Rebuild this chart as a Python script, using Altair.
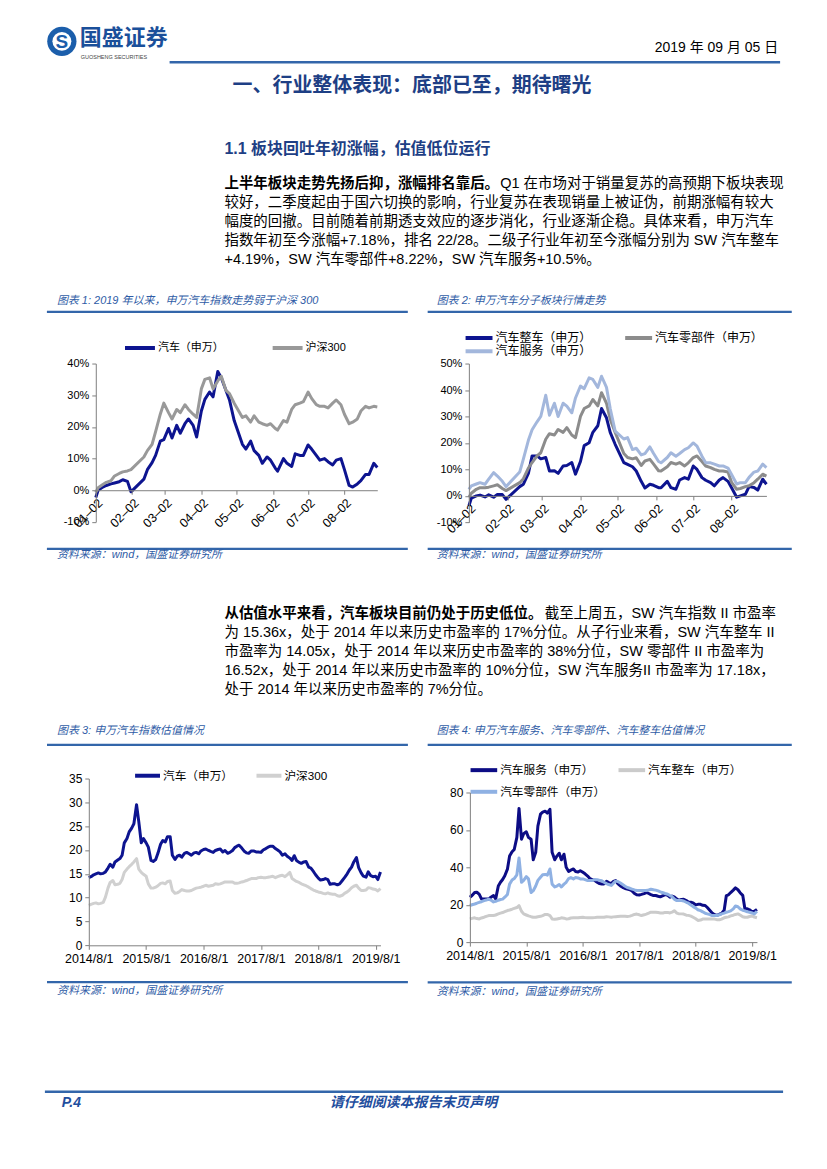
import altair as alt
import pandas as pd

# ------------------------------------------------------------------ fonts / colours
CJK = "Noto Sans CJK SC"
MIX = "Liberation Sans Narrow, Liberation Sans, Noto Sans CJK SC"
LAT = "Liberation Sans"
LEGF = "Liberation Sans, Noto Sans CJK SC"
HEAD_C = "#1e3f85"
BLUE_T = "#2f5ca6"
RULE_C = "#3366aa"
AX_C = "#808080"
NAVY = "#0d1490"

# ------------------------------------------------------------------ texts
DATE_STR = "2019 年 09 月 05 日"
LOGO_CN = "国盛证券"
LOGO_EN = "GUOSHENG SECURITIES"
H1 = "一、行业整体表现：底部已至，期待曙光"
H2 = "1.1 板块回吐年初涨幅，估值低位运行"
P1_BOLD = "上半年板块走势先扬后抑，涨幅排名靠后。"
P1_FIRST = "Q1 在市场对于销量复苏的高预期下板块表现"
P1_LINES = [
    "较好，二季度起由于国六切换的影响，行业复苏在表现销量上被证伪，前期涨幅有较大",
    "幅度的回撤。目前随着前期透支效应的逐步消化，行业逐渐企稳。具体来看，申万汽车",
    "指数年初至今涨幅+7.18%，排名 22/28。二级子行业年初至今涨幅分别为 SW 汽车整车",
    "+4.19%，SW 汽车零部件+8.22%，SW 汽车服务+10.5%。",
]
P2_BOLD = "从估值水平来看，汽车板块目前仍处于历史低位。"
P2_FIRST = "截至上周五，SW 汽车指数 II 市盈率"
P2_LINES = [
    "为 15.36x，处于 2014 年以来历史市盈率的 17%分位。从子行业来看，SW 汽车整车 II",
    "市盈率为 14.05x，处于 2014 年以来历史市盈率的 38%分位，SW 零部件 II 市盈率为",
    "16.52x，处于 2014 年以来历史市盈率的 10%分位，SW 汽车服务II 市盈率为 17.18x，",
    "处于 2014 年以来历史市盈率的 7%分位。",
]
TITLES = [
    "图表 1: 2019 年以来，申万汽车指数走势弱于沪深 300",
    "图表 2: 申万汽车分子板块行情走势",
    "图表 3: 申万汽车指数估值情况",
    "图表 4: 申万汽车服务、汽车零部件、汽车整车估值情况",
]
SOURCE = "资料来源：wind，国盛证券研究所"
FOOT_L = "P.4"
FOOT_C = "请仔细阅读本报告末页声明"

# ------------------------------------------------------------------ data: 2019 YTD change (%)
D19 = ["2019-01-02", "2019-01-04", "2019-01-08", "2019-01-11", "2019-01-15", "2019-01-18",
       "2019-01-22", "2019-01-25", "2019-01-29",
       "2019-02-01", "2019-02-12", "2019-02-15", "2019-02-19", "2019-02-22", "2019-02-26",
       "2019-03-01", "2019-03-05", "2019-03-08", "2019-03-12", "2019-03-15", "2019-03-19",
       "2019-03-22", "2019-03-26", "2019-03-29",
       "2019-04-02", "2019-04-05", "2019-04-09", "2019-04-12", "2019-04-16", "2019-04-19",
       "2019-04-23", "2019-04-26", "2019-04-30",
       "2019-05-07", "2019-05-10", "2019-05-14", "2019-05-17", "2019-05-21", "2019-05-24",
       "2019-05-28", "2019-05-31",
       "2019-06-04", "2019-06-06", "2019-06-11", "2019-06-14", "2019-06-18", "2019-06-21",
       "2019-06-25", "2019-06-28",
       "2019-07-02", "2019-07-05", "2019-07-09", "2019-07-12", "2019-07-16", "2019-07-19",
       "2019-07-23", "2019-07-26", "2019-07-30",
       "2019-08-02", "2019-08-06", "2019-08-09", "2019-08-13", "2019-08-16", "2019-08-20",
       "2019-08-23", "2019-08-27", "2019-08-30"]
TICKS19 = ["2019-01-02", "2019-02-02", "2019-03-02", "2019-04-02", "2019-05-02",
           "2019-06-02", "2019-07-02", "2019-08-02"]
DOM19 = ["2019-01-02", "2019-08-30"]

C1_NAMES = ["汽车（申万）", "沪深300"]
C1_AUTO = [-2.3, 0.0, 1.0, 1.5, 2.0, 2.3, 2.7, 3.3, 2.8,
           -0.5, 3.5, 6.5, 8.7, 11.0, 15.5,
           16.0, 19.5, 16.5, 20.5, 18.0, 21.0, 22.5, 20.5, 16.8,
           25.0, 28.7, 31.0, 29.5, 37.5, 35.5, 31.5, 28.5, 22.0,
           14.5, 13.0, 15.5, 12.5, 11.0, 8.5, 10.5, 9.5,
           7.0, 6.0, 10.0, 8.5, 7.5, 11.5, 11.0, 11.0,
           14.3, 13.0, 11.0, 9.5, 10.0, 9.0, 8.0, 9.5, 10.0,
           6.5, 1.5, 1.0, 2.0, 3.0, 5.0, 5.0, 8.5, 7.2]
C1_HS300 = [-0.7, 0.8, 1.8, 2.5, 3.0, 4.5, 5.3, 5.8, 6.1,
            6.5, 10.5, 12.5, 14.5, 18.5, 24.0,
            27.5, 24.5, 22.5, 25.5, 24.5, 27.0, 25.5, 24.0, 23.0,
            32.0, 35.0, 35.5, 32.0, 34.5, 36.0, 31.5, 30.5, 27.5,
            23.0, 23.5, 21.5, 23.5, 21.5, 21.0, 20.5, 21.0,
            19.5, 19.0, 22.0, 21.5, 25.5, 27.0, 27.5, 28.0,
            31.0, 29.0, 27.0, 26.5, 26.5, 26.0, 27.5, 28.5, 27.0,
            24.0, 21.0, 21.5, 22.5, 25.0, 26.5, 26.0, 26.5, 26.3]

C2_NAMES = ["汽车整车（申万）", "汽车零部件（申万）", "汽车服务（申万）"]
C2_ZC = [-3.8, -0.8, 0.0, 0.3, -0.4, 0.4, -0.5, 0.5, 0.5,
         -1.3, 3.5, 4.4, 8.5, 15.1, 15.1,
         14.0, 14.5, 9.4, 9.5, 8.5, 11.3, 11.5, 12.6, 8.2,
         13.0, 19.0, 20.1, 24.0, 26.5, 33.0, 29.5, 24.0, 19.5,
         12.6, 11.9, 11.0, 9.4, 5.5, 3.0, 4.4, 4.0,
         3.1, 3.1, 5.5, 3.1, 2.5, 6.0, 6.9, 6.3,
         11.3, 10.0, 6.9, 5.9, 5.0, 3.8, 6.0, 6.9, 5.5,
         3.0, -0.5, 0.0, 0.6, 3.5, 3.2, 2.2, 6.3, 4.4]
C2_LBJ = [-0.5, 1.0, 2.5, 3.1, 3.1, 3.3, 3.8, 4.2, 2.8,
          2.0, 5.0, 6.5, 10.5, 12.6, 15.1,
          16.3, 21.4, 23.5, 23.0, 25.1, 24.0, 25.8, 23.0, 22.0,
          30.0, 33.0, 34.0, 36.4, 34.0, 39.0, 35.0, 29.0, 24.0,
          16.0, 14.5, 14.0, 14.4, 11.5, 13.2, 13.8, 12.0,
          9.5, 9.4, 11.0, 12.6, 12.0, 12.6, 11.3, 12.5,
          14.5, 15.1, 13.0, 11.3, 10.7, 10.0, 9.4, 9.4, 9.0,
          5.0, 2.5, 2.8, 3.5, 3.8, 5.0, 6.3, 8.2, 7.5]
C2_FW = [2.5, 3.8, 4.5, 5.0, 4.4, 6.3, 8.8, 7.5, 5.5,
         3.5, 9.0, 14.0, 21.0, 25.0, 28.0,
         30.0, 38.0, 30.5, 35.0, 30.0, 35.0, 33.9, 31.4, 37.0,
         41.5, 40.5, 44.6, 44.0, 41.0, 45.2, 41.0, 33.0, 24.5,
         21.5, 22.0, 17.5, 18.0, 15.5, 16.0, 18.5, 16.0,
         13.0, 12.5, 14.5, 16.3, 15.0, 16.0, 17.5, 18.2,
         20.0, 18.8, 15.0, 12.5, 12.5, 12.0, 11.3, 11.3, 10.5,
         8.0, 4.5, 5.0, 5.0, 7.0, 9.0, 9.4, 12.0, 10.7]

# ------------------------------------------------------------------ data: P/E (semi-monthly readings)
DPE = pd.date_range("2014-08-01", "2019-09-01", freq="SMS").strftime("%Y-%m-%d").tolist()
TICKS_PE = ["2014-08-01", "2015-08-01", "2016-08-01", "2017-08-01", "2018-08-01", "2019-08-01"]
DOM_PE = ["2014-08-01", "2019-09-01"]

C3_NAMES = ["汽车（申万）", "沪深300"]
C3_AUTO = [14.2, 14.4, 14.8, 15.0, 15.2, 15.0, 15.1, 15.4, 16.2, 17.0,
           16.4, 17.5, 17.9, 18.2, 18.9, 21.5, 22.4, 23.8, 24.6, 25.5,
           29.5, 26.0, 21.5, 22.4, 21.5, 20.6, 17.8, 17.6, 18.0, 19.3,
           21.2, 22.0, 21.7, 22.8, 22.8, 18.9, 18.0, 18.7, 18.9, 18.5,
           19.3, 19.5, 19.2, 18.9, 19.4, 19.5, 19.2, 19.8, 20.1, 20.2,
           19.9, 19.7, 19.5, 19.9, 20.1, 20.2, 19.6, 19.9, 19.3, 19.5,
           19.9, 20.5, 20.8, 21.0, 20.4, 19.8, 19.4, 19.3, 19.8, 19.8,
           19.6, 19.6, 19.5, 20.0, 20.3, 20.6, 20.8, 20.8, 20.3, 20.0,
           19.6, 18.9, 19.2, 18.7, 18.3, 17.8, 18.8, 17.8, 17.4, 17.2,
           17.5, 17.6, 16.4, 16.2, 15.5, 14.8, 14.1, 13.7, 13.8, 14.0,
           13.8, 12.8, 12.9, 12.9, 12.7, 12.9, 13.6, 14.2, 15.0, 15.8,
           16.4, 17.5, 18.4, 16.3, 15.2, 14.5, 14.3, 15.4, 14.6, 14.4,
           14.5, 13.8, 15.4]
C3_HS300 = [8.4, 8.6, 8.8, 8.9, 8.7, 8.8, 9.0, 10.1, 12.0, 13.2,
            13.6, 12.7, 12.8, 13.0, 13.8, 15.3, 16.0, 16.5, 17.0, 17.5,
            18.2, 16.0, 15.3, 14.9, 14.5, 12.9, 12.0, 12.0, 12.2, 12.5,
            13.0, 13.1, 12.9, 13.4, 13.5, 11.5, 10.9, 11.0, 11.3, 11.7,
            11.5, 11.4, 11.4, 11.5, 11.8, 12.0, 12.1, 12.2, 12.4, 12.6,
            12.4, 12.5, 12.6, 12.9, 12.8, 12.9, 13.1, 13.3, 13.3, 13.3,
            13.3, 13.0, 13.0, 13.1, 13.3, 13.4, 13.6, 13.8, 14.0, 14.0,
            14.0, 14.2, 14.3, 14.2, 14.2, 14.3, 14.4, 14.5, 14.2, 14.4,
            14.6, 14.7, 14.4, 14.8, 15.3, 14.0, 13.7, 13.4, 13.2, 12.9,
            12.7, 12.5, 12.2, 11.9, 11.6, 11.4, 11.2, 11.1, 10.9, 10.8,
            11.0, 10.8, 10.7, 10.7, 10.4, 10.3, 10.5, 10.9, 11.2, 11.6,
            12.1, 12.4, 12.6, 12.0, 11.5, 11.5, 11.6, 12.1, 12.0, 11.8,
            11.7, 11.4, 11.9]

C4_NAMES = ["汽车服务（申万）", "汽车整车（申万）", "汽车零部件（申万）"]
C4_FW = [24.0, 24.9, 26.5, 26.7, 25.5, 23.1, 23.1, 23.1, 23.1, 24.0,
         24.9, 23.1, 30.0, 32.0, 33.5, 35.5, 39.0, 46.0, 48.3, 49.5,
         56.0, 71.5, 55.0, 58.0, 59.0, 56.0, 55.0, 44.0, 48.0, 62.0,
         68.4, 69.5, 70.0, 69.0, 71.0, 48.0, 44.0, 46.0, 47.5, 44.0,
         47.0, 40.0, 37.8, 38.5, 39.1, 37.8, 37.5, 38.2, 37.3, 36.5,
         35.3, 34.0, 33.4, 33.0, 32.0, 31.3, 31.1, 31.1, 32.5, 31.8,
         31.3, 32.5, 32.9, 31.3, 30.0, 29.3, 28.7, 28.4, 28.0, 27.4,
         26.0, 25.3, 25.2, 25.5, 25.9, 26.6, 26.0, 25.4, 24.9, 24.9,
         24.5, 24.2, 24.8, 25.4, 25.0, 24.0, 24.6, 24.2, 23.0, 22.4,
         22.8, 22.9, 22.2, 21.5, 21.3, 21.0, 19.9, 20.2, 20.2, 19.7,
         19.6, 18.5, 16.9, 15.6, 14.7, 14.3, 14.9, 15.3, 17.0, 24.9,
         25.3, 26.5, 27.8, 29.0, 28.0, 26.4, 25.0, 17.8, 17.8, 17.3,
         16.2, 16.5, 17.5]
C4_ZC = [12.4, 12.7, 13.0, 12.6, 12.4, 12.9, 13.3, 13.8, 14.2, 14.2,
         14.2, 14.5, 15.1, 15.5, 15.8, 16.3, 16.9, 17.2, 17.6, 18.0,
         18.5, 19.5, 16.5, 15.1, 14.5, 14.0, 13.6, 13.3, 13.3, 13.6,
         13.8, 14.2, 14.8, 14.8, 14.2, 12.4, 12.2, 12.4, 12.6, 13.0,
         12.8, 12.4, 12.5, 12.9, 13.0, 13.0, 13.0, 13.2, 13.3, 13.1,
         13.0, 13.0, 13.0, 13.1, 13.3, 13.3, 13.3, 13.3, 13.6, 13.5,
         13.3, 13.5, 13.6, 13.7, 13.8, 13.8, 13.8, 13.7, 13.9, 14.3,
         14.8, 15.0, 14.6, 14.2, 14.6, 15.0, 15.5, 16.0, 16.0, 16.0,
         15.8, 15.6, 15.6, 15.9, 15.9, 15.6, 16.0, 16.8, 15.5, 15.1,
         15.1, 15.0, 14.4, 14.3, 13.9, 13.3, 12.5, 11.6, 11.8, 12.3,
         12.4, 12.4, 12.4, 12.4, 12.3, 12.0, 11.9, 12.3, 13.0, 13.3,
         13.5, 14.0, 14.4, 14.8, 15.1, 14.5, 13.6, 13.3, 13.3, 13.7,
         14.0, 13.4, 13.0]
C4_LBJ = [19.6, 20.0, 20.4, 20.8, 21.3, 21.6, 22.2, 22.5, 23.0, 22.5,
          21.5, 21.8, 22.4, 22.8, 23.0, 24.0, 25.5, 31.0, 33.2, 34.0,
          36.0, 45.0, 32.0, 33.0, 35.0, 33.8, 26.5, 27.5, 30.0, 33.0,
          34.7, 36.0, 36.2, 35.8, 39.1, 31.0, 29.5, 30.0, 30.8, 29.5,
          31.0, 32.0, 34.0, 34.5, 33.8, 34.5, 34.3, 33.8, 33.8, 33.4,
          32.9, 32.9, 32.9, 33.5, 33.4, 33.1, 32.8, 32.0, 31.3, 30.8,
          30.3, 31.5, 32.6, 32.4, 31.6, 30.8, 29.9, 29.2, 28.8, 28.3,
          27.9, 27.6, 27.6, 27.6, 27.6, 27.6, 27.9, 28.3, 28.0, 27.8,
          27.4, 26.9, 26.4, 26.0, 25.6, 24.9, 24.3, 23.0, 22.2, 22.2,
          22.2, 22.0, 21.3, 20.8, 19.8, 19.0, 18.2, 17.3, 16.8, 16.2,
          15.4, 15.1, 14.7, 14.2, 14.2, 14.2, 14.6, 15.1, 15.5, 16.0,
          16.3, 16.7, 17.8, 19.3, 18.9, 17.8, 17.0, 16.7, 16.2, 16.0,
          15.6, 15.1, 16.5]

# ------------------------------------------------------------------ helpers
ONE = pd.DataFrame({"k": [0]})


def dt(s):
    y, m, d = (int(p) for p in s.split("-"))
    return alt.DateTime(year=y, month=m, date=d, utc=True)


def txt(s, x, y, size=14.5, weight="normal", color="#000000", align="left", italic=False, font=MIX):
    kw = dict(text=s, align=align, baseline="middle", fontSize=size, fontWeight=weight,
              color=color, font=font)
    if italic:
        kw["fontStyle"] = "italic"
    return alt.Chart(ONE).mark_text(**kw).encode(x=alt.value(x), y=alt.value(y))


def hrule(x1, x2, y, w, color):
    return alt.Chart(ONE).mark_rule(color=color, strokeWidth=w).encode(
        x=alt.value(x1), x2=alt.value(x2), y=alt.value(y))


def frame(x1, x2, y1, y2):
    return alt.Chart(ONE).mark_rect(color="white", opacity=1).encode(
        x=alt.value(x1), x2=alt.value(x2), y=alt.value(y1), y2=alt.value(y2))


def spacer():
    return alt.Chart(ONE).mark_rect(opacity=0).encode(
        x=alt.value(0), x2=alt.value(1), y=alt.value(0), y2=alt.value(1)).properties(width=1, height=1)


def res(c):
    return c.resolve_scale(color="independent").resolve_legend(color="independent")


def x19(offset):
    return alt.X("d:T", title=None,
                 scale=alt.Scale(type="utc", domain=[dt(DOM19[0]), dt(DOM19[1])]),
                 axis=alt.Axis(values=[dt(s) for s in TICKS19],
                               labelExpr="utcFormat(datum.value, '%m–%d')",
                               labelAngle=-45, labelAlign="right", labelBaseline="top",
                               offset=offset, labelFont=LAT, labelFontSize=12.5, labelColor="#000000",
                               labelPadding=2, labelOverlap=False, labelFlush=False, zindex=1,
                               domainColor=AX_C, tickColor=AX_C, tickSize=4, grid=False))


def xpe():
    return alt.X("d:T", title=None,
                 scale=alt.Scale(type="utc", domain=[dt(DOM_PE[0]), dt(DOM_PE[1])]),
                 axis=alt.Axis(values=[dt(s) for s in TICKS_PE],
                               labelExpr="utcFormat(datum.value, '%Y/%-m/%-d')",
                               labelAngle=0, labelAlign="center", labelFont=LAT, labelFontSize=12.5,
                               labelColor="#000000", labelPadding=3, labelOverlap=False, zindex=1,
                               labelFlush=False, domainColor=AX_C, tickColor=AX_C, tickSize=4,
                               grid=False))


def yenc(dom, vals, pct, fs):
    kw = dict(values=vals, labelFont=LAT, labelFontSize=fs, labelColor="#000000", labelPadding=3,
              domainColor=AX_C, tickColor=AX_C, tickSize=4, grid=False, labelFlush=False, zindex=1)
    if pct:
        kw["labelExpr"] = "datum.value + '%'"
    return alt.Y("v:Q", title=None, scale=alt.Scale(domain=dom, nice=False, zero=False),
                 axis=alt.Axis(**kw))


def panel(cell, origin, W, H, title, title_xy, rule_x, rule_y, src_rule_y, src_xy,
          dates, names, values, colors, leg_pos, leg_len, leg_fs, xe, ye):
    cx0, cy0, cx1, cy1 = cell
    ox, oy = origin
    layers = [
        frame(cx0 + 1 - ox, cx1 - ox, cy0 + 1 - oy, cy1 - oy),
        txt(title, title_xy[0] - ox, title_xy[1] - oy, size=11, color=BLUE_T, italic=True, font=LEGF),
        hrule(rule_x[0] - ox, rule_x[1] - ox, rule_y - oy, 2.2, RULE_C),
        hrule(rule_x[0] - ox, rule_x[1] - ox, src_rule_y - oy, 2.2, RULE_C),
        txt(SOURCE, src_xy[0] - ox, src_xy[1] - oy, size=11, color=BLUE_T, italic=True, font=LEGF),
    ]
    color = alt.Color("s:N", title=None, scale=alt.Scale(domain=names, range=colors), legend=None)
    for name, vals in zip(names, values):
        df = pd.DataFrame({"d": dates, "v": vals, "s": name})
        layers.append(alt.Chart(df).mark_line(strokeWidth=3, strokeJoin="round").encode(
            x=xe, y=ye, color=color))
    # legend (swatch + label)
    for name, col, (lx, ly) in zip(names, colors, leg_pos):
        layers.append(hrule(lx - ox, lx + leg_len - ox, ly - oy, 4, col))
        layers.append(txt(name, lx + leg_len + 3 - ox, ly - oy, size=leg_fs, font=LEGF))
    inner = res(alt.layer(*layers)).properties(width=W, height=H)
    return res(alt.vconcat(spacer(), res(alt.hconcat(spacer(), inner, spacing=0)), spacing=0))


# ------------------------------------------------------------------ row 1: header + paragraph 1
BODY = 14.5
t1 = [
    frame(0, 811, 0, 277),
    alt.Chart(ONE).mark_point(shape="circle", filled=True, size=860, color="#1b5eab", opacity=1).encode(
        x=alt.value(54), y=alt.value(32)),
    alt.Chart(ONE).mark_point(shape="circle", filled=True, size=360, color="white", opacity=1).encode(
        x=alt.value(54), y=alt.value(32)),
    txt("S", 54, 33, size=19, weight="bold", color="#1b5eab", align="center", font=LAT),
    txt(LOGO_CN, 72, 29, size=22, weight="bold", color="#1a4f9a", font=CJK),
    txt(LOGO_EN, 73, 47.5, size=5.5, color="#444444", font=LAT),
    txt(DATE_STR, 772, 39, size=14, align="right"),
    hrule(162, 774, 53, 2.5, RULE_C),
    txt(H1, 405, 77, size=20, weight="bold", color=HEAD_C, align="center", font=CJK),
    txt(H2, 217, 140, size=16, weight="bold", color=HEAD_C, font=LEGF),
    txt(P1_BOLD, 217, 175, weight="bold", font=CJK),
    txt(P1_FIRST, 217 + len(P1_BOLD) * BODY + 1, 175),
]
for i, line in enumerate(P1_LINES):
    t1.append(txt(line, 217, 194 + 19 * i))
T1 = alt.layer(*t1).properties(width=811, height=277)

# ------------------------------------------------------------------ row 2: charts 1 & 2
C1 = panel((8, 285, 420, 570), (95.7, 362.3), 282.2, 158.75, TITLES[0], (56.7, 299.5),
           (46.7, 408.5), 310.5, 548, (56.7, 554.7),
           D19, C1_NAMES, [C1_AUTO, C1_HS300], [NAVY, "#999999"],
           [(125, 346.7), (273, 346.7)], 30, 11, x19(-31.75),
           yenc([-10, 40], [-10, 0, 10, 20, 30, 40], True, 11))
C2 = panel((420, 285, 819, 570), (468.3, 362.3), 298.3, 159.2, TITLES[1], (436, 299.5),
           (427, 792), 310.5, 548, (436, 554.7),
           D19, C2_NAMES, [C2_ZC, C2_LBJ, C2_FW], [NAVY, "#8c8c8c", "#a3b7dc"],
           [(465, 336.7), (625, 336.7), (465, 350)], 27, 12, x19(-26.54),
           yenc([-10, 50], [-10, 0, 10, 20, 30, 40, 50], True, 11))
R2 = res(alt.hconcat(C1, C2, spacing=0))

# ------------------------------------------------------------------ row 3: paragraph 2
t2 = [
    frame(0, 811, 0, 140),
    txt(P2_BOLD, 217, 43, weight="bold", font=CJK),
    txt(P2_FIRST, 217 + len(P2_BOLD) * BODY + 2, 43),
]
for i, line in enumerate(P2_LINES):
    t2.append(txt(line, 217, 62 + 19 * i))
T2 = alt.layer(*t2).properties(width=811, height=140)

# ------------------------------------------------------------------ row 4: charts 3 & 4
C3 = panel((8, 710, 420, 1010), (88.6, 777.8), 292.4, 167.2, TITLES[2], (56.7, 730.5),
           (46.7, 408.5), 744, 982, (56.7, 991.3),
           DPE, C3_NAMES, [C3_AUTO, C3_HS300], [NAVY, "#d0d0d0"],
           [(135, 775), (256.7, 775)], 25, 11.7, xpe(),
           yenc([0, 35], [0, 5, 10, 15, 20, 25, 30, 35], False, 12))
C4 = panel((420, 710, 819, 1010), (469.3, 791.7), 287.8, 150, TITLES[3], (436, 730.5),
           (427, 792), 744, 982, (436, 991.5),
           DPE, C4_NAMES, [C4_FW, C4_ZC, C4_LBJ], ["#0c0c85", "#cbcbcb", "#8fb1e3"],
           [(470, 769.3), (618.3, 769.3), (470, 791)], 26.7, 11.7, xpe(),
           yenc([0, 80], [0, 20, 40, 60, 80], False, 12))
R4 = res(alt.hconcat(C3, C4, spacing=0))

# ------------------------------------------------------------------ row 5: footer
t3 = [
    frame(0, 811, 0, 151),
    hrule(37, 777, 81, 2.5, RULE_C),
    txt(FOOT_L, 54, 92, size=14, weight="bold", italic=True, color="#1f4e9e", font=LAT),
    txt(FOOT_C, 406.5, 92, size=14, weight="bold", italic=True, color="#1f4e9e", align="center", font=CJK),
]
T3 = alt.layer(*t3).properties(width=811, height=151)

chart = res(alt.vconcat(T1, R2, T2, R4, T3, spacing=0)).properties(
    padding=0, background="white").configure_view(stroke=None)

chart.save("out.html", embed_options={"renderer": "svg", "actions": False})
